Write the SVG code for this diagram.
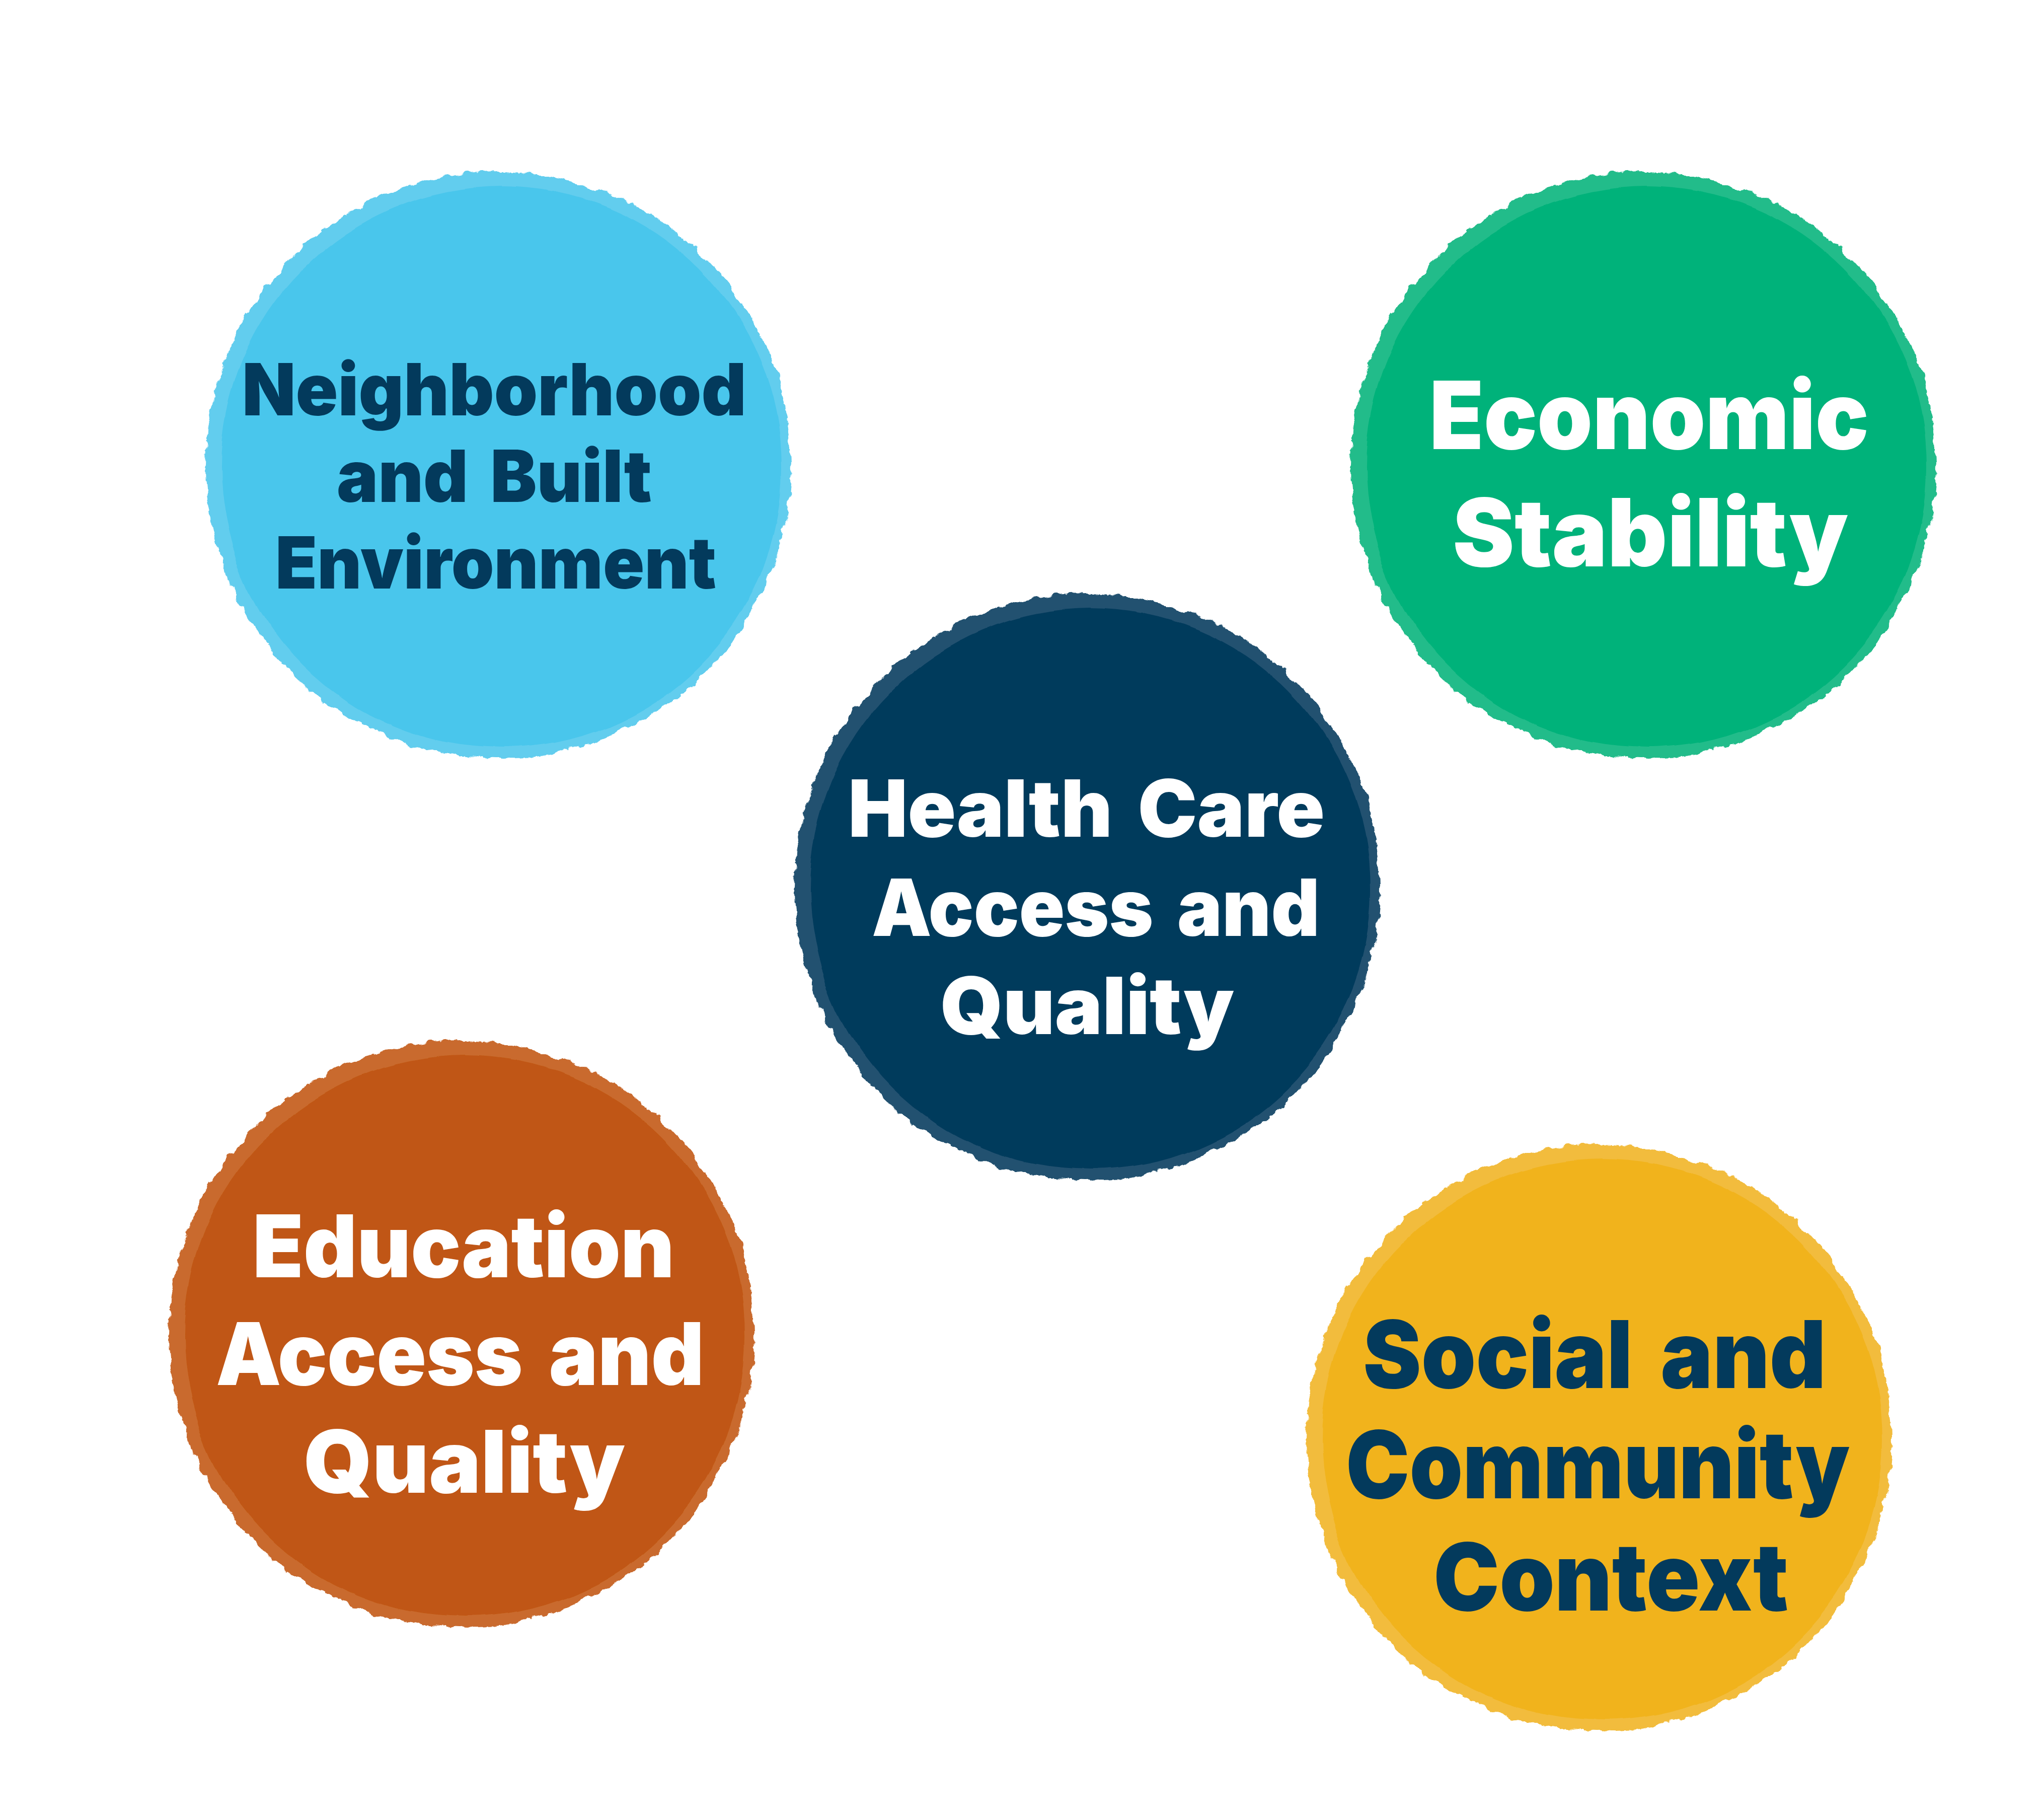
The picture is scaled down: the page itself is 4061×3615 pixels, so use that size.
<svg xmlns="http://www.w3.org/2000/svg" xmlns:xlink="http://www.w3.org/1999/xlink" width="4061" height="3615" viewBox="0 0 4061 3615">
<style>
.lbl{font-family:Inter,"Open Sans",Lato,"Liberation Sans",sans-serif;font-weight:900;text-anchor:start;word-spacing:0.12em}
.dark{fill:#033A5C}
.light{fill:#FFFFFF}
</style>
<defs>
<filter id="rough" x="-10%" y="-10%" width="120%" height="120%">
<feTurbulence type="fractalNoise" baseFrequency="0.035" numOctaves="4" seed="3" result="n"/>
<feDisplacementMap in="SourceGraphic" in2="n" scale="18" xChannelSelector="R" yChannelSelector="G"/>
</filter>
<filter id="rough2" x="-10%" y="-10%" width="120%" height="120%">
<feTurbulence type="fractalNoise" baseFrequency="0.006" numOctaves="3" seed="7" result="n"/>
<feDisplacementMap in="SourceGraphic" in2="n" scale="16" xChannelSelector="R" yChannelSelector="G"/>
</filter>
<circle id="edge" cx="0" cy="0" r="582"/>
<circle id="core" cx="6" cy="4" r="558"/>
</defs>
<rect width="4061" height="3615" fill="#FFFFFF"/>
<g id="connectors"/>
<g id="node-neighborhood">
<use xlink:href="#edge" x="990" y="924" fill="#62CDEE" filter="url(#rough)"/>
<use xlink:href="#core" x="990" y="924" fill="#4AC6EC" filter="url(#rough2)"/>
<text class="lbl dark" x="481" y="825" font-size="143" textLength="1002" lengthAdjust="spacingAndGlyphs">Neighborhood</text>
<text class="lbl dark" x="669" y="997" font-size="143" textLength="626" lengthAdjust="spacingAndGlyphs">and Built</text>
<text class="lbl dark" x="547" y="1169" font-size="143" textLength="876" lengthAdjust="spacingAndGlyphs">Environment</text>
</g>
<g id="node-economic">
<use xlink:href="#edge" x="3265" y="924" fill="#22BC8A" filter="url(#rough)"/>
<use xlink:href="#core" x="3265" y="924" fill="#02B27A" filter="url(#rough2)"/>
<text class="lbl light" x="2840" y="892" font-size="187" textLength="873" lengthAdjust="spacingAndGlyphs">Economic</text>
<text class="lbl light" x="2886" y="1125" font-size="187" textLength="786" lengthAdjust="spacingAndGlyphs">Stability</text>
</g>
<g id="node-healthcare">
<use xlink:href="#edge" x="2160" y="1762" fill="#20516F" filter="url(#rough)"/>
<use xlink:href="#core" x="2160" y="1762" fill="#033A5C" filter="url(#rough2)"/>
<text class="lbl light" x="1685" y="1662" font-size="157" textLength="947" lengthAdjust="spacingAndGlyphs">Health Care</text>
<text class="lbl light" x="1732" y="1859" font-size="157" textLength="890" lengthAdjust="spacingAndGlyphs">Access and</text>
<text class="lbl light" x="1868" y="2054" font-size="157" textLength="584" lengthAdjust="spacingAndGlyphs">Quality</text>
</g>
<g id="node-education">
<use xlink:href="#edge" x="917" y="2650" fill="#C96A2E" filter="url(#rough)"/>
<use xlink:href="#core" x="917" y="2650" fill="#C05712" filter="url(#rough2)"/>
<text class="lbl light" x="502" y="2537" font-size="172" textLength="838" lengthAdjust="spacingAndGlyphs">Education</text>
<text class="lbl light" x="429" y="2751" font-size="172" textLength="970" lengthAdjust="spacingAndGlyphs">Access and</text>
<text class="lbl light" x="603" y="2965" font-size="172" textLength="639" lengthAdjust="spacingAndGlyphs">Quality</text>
</g>
<g id="node-social">
<use xlink:href="#edge" x="3177" y="2856" fill="#F2BC3C" filter="url(#rough)"/>
<use xlink:href="#core" x="3177" y="2856" fill="#F1B31F" filter="url(#rough2)"/>
<text class="lbl dark" x="2708" y="2757" font-size="186" textLength="920" lengthAdjust="spacingAndGlyphs">Social and</text>
<text class="lbl dark" x="2674" y="2976" font-size="186" textLength="1001" lengthAdjust="spacingAndGlyphs">Community</text>
<text class="lbl dark" x="2848" y="3199" font-size="186" textLength="705" lengthAdjust="spacingAndGlyphs">Context</text>
</g>
</svg>
